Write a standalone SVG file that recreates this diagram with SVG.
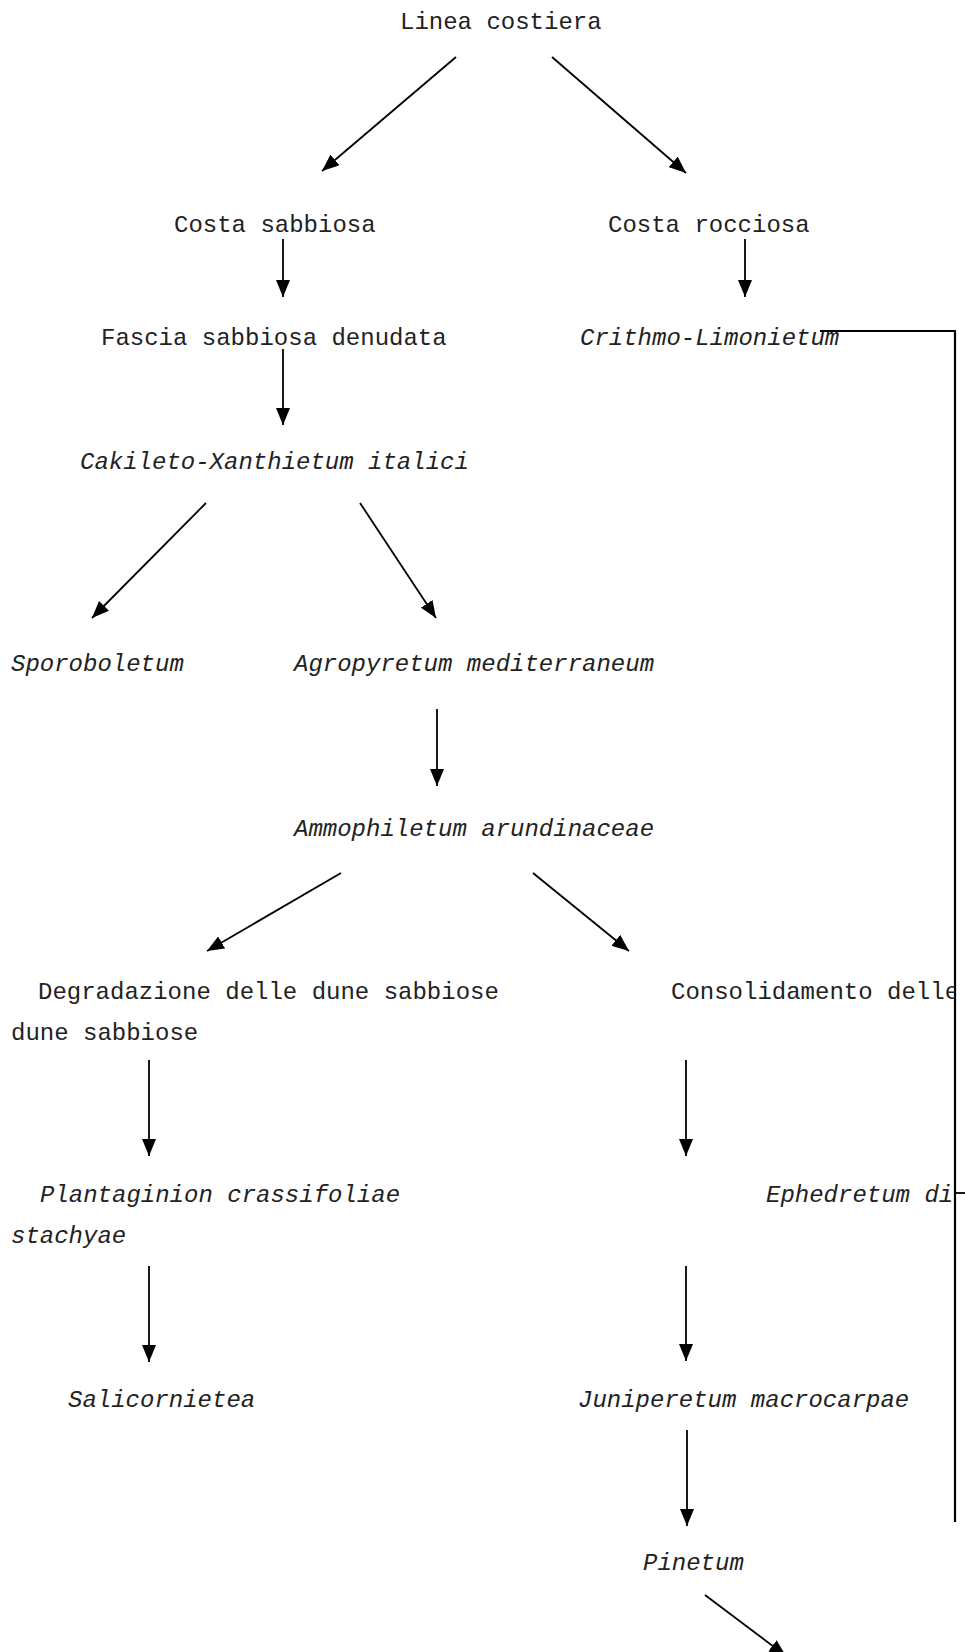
<svg xmlns="http://www.w3.org/2000/svg" width="965" height="1652" viewBox="0 0 965 1652">
<style>
text{font-family:"Liberation Mono","Courier New",monospace;font-size:24px;fill:#222}
.i{font-style:italic}
.c{stroke:#000;stroke-width:1.8;fill:none}
.c.a{marker-end:url(#ah)}
.b{stroke:#000;stroke-width:2.2;fill:none}
</style>
<defs>
<marker id="ah" markerUnits="userSpaceOnUse" markerWidth="17" markerHeight="14" refX="17" refY="7" orient="auto">
<path d="M0,0 L17,7 L0,14 z" fill="#000"/>
</marker>
<clipPath id="clipR"><rect x="0" y="0" width="955" height="1652"/></clipPath>
</defs>
<rect width="965" height="1652" fill="#fff"/>
<g id="connectors">
<line class="c a" x1="456" y1="57" x2="322" y2="171"/>
<line class="c a" x1="552" y1="57" x2="686" y2="173"/>
<line class="c a" x1="283" y1="239" x2="283" y2="297"/>
<line class="c a" x1="745" y1="239" x2="745" y2="297"/>
<line class="c a" x1="283" y1="349" x2="283" y2="425"/>
<line class="c a" x1="206" y1="503" x2="92" y2="618"/>
<line class="c a" x1="360" y1="503" x2="436" y2="618"/>
<line class="c a" x1="437" y1="709" x2="437" y2="786"/>
<line class="c a" x1="341" y1="873" x2="207" y2="951"/>
<line class="c a" x1="533" y1="873" x2="629" y2="951"/>
<line class="c a" x1="149" y1="1060" x2="149" y2="1156"/>
<line class="c a" x1="686" y1="1060" x2="686" y2="1156"/>
<line class="c a" x1="149" y1="1266" x2="149" y2="1362"/>
<line class="c a" x1="686" y1="1266" x2="686" y2="1361"/>
<line class="c a" x1="687" y1="1430" x2="687" y2="1526"/>
<line class="c a" x1="705" y1="1595" x2="786" y2="1656"/>
<polyline class="b" points="820,331 955,331 955,1522"/>
<line class="c" x1="955" y1="1193" x2="965" y2="1193"/>
</g>
<g id="n-linea"><text x="400" y="29">Linea costiera</text></g>
<g id="n-costa-sabbiosa"><text x="174" y="232">Costa sabbiosa</text></g>
<g id="n-costa-rocciosa"><text x="608" y="232">Costa rocciosa</text></g>
<g id="n-fascia"><text x="101" y="345">Fascia sabbiosa denudata</text></g>
<g id="n-crithmo"><text class="i" x="580" y="345">Crithmo-Limonietum</text></g>
<g id="n-cakileto"><text class="i" x="80" y="469">Cakileto-Xanthietum italici</text></g>
<g id="n-sporoboletum"><text class="i" x="11" y="671">Sporoboletum</text></g>
<g id="n-agropyretum"><text class="i" x="294" y="671">Agropyretum mediterraneum</text></g>
<g id="n-ammophiletum"><text class="i" x="294" y="836">Ammophiletum arundinaceae</text></g>
<g id="n-degradazione"><text x="38" y="999">Degradazione delle dune sabbiose</text></g>
<g id="n-dune"><text x="11" y="1040">dune sabbiose</text></g>
<g id="n-consolidamento"><text x="671" y="999" clip-path="url(#clipR)">Consolidamento delle</text></g>
<g id="n-plantaginion"><text class="i" x="40" y="1202">Plantaginion crassifoliae</text></g>
<g id="n-stachyae"><text class="i" x="11" y="1243">stachyae</text></g>
<g id="n-ephedretum"><text class="i" x="766" y="1202">Ephedretum di</text></g>
<g id="n-salicornietea"><text class="i" x="68" y="1407">Salicornietea</text></g>
<g id="n-juniperetum"><text class="i" x="578" y="1407">Juniperetum macrocarpae</text></g>
<g id="n-pinetum"><text class="i" x="643" y="1570">Pinetum</text></g>
</svg>
